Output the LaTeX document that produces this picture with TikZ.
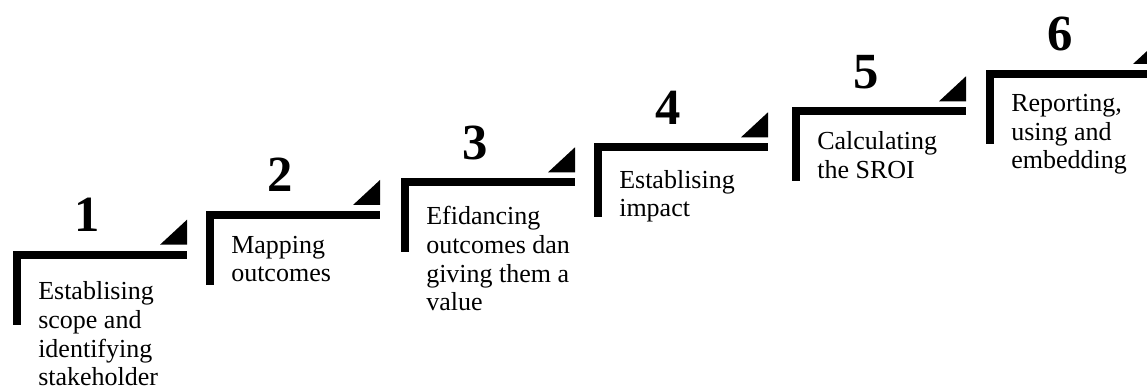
\documentclass[tikz,border=0pt]{standalone}
\usepackage{fontspec}
\setmainfont{Liberation Serif}
\begin{document}
\begin{tikzpicture}[x=0.75pt,y=-0.75pt,
  stepbar/.style={fill=black},
  steptri/.style={fill=black},
  stepnum/.style={font=\fontsize{38}{40}\selectfont\bfseries, inner sep=0pt, anchor=base},
  steptxt/.style={font=\fontsize{19.5}{21.45}\selectfont, inner sep=0pt, anchor=base west}]
\useasboundingbox (0,0) rectangle (1147,392);
\clip (0,0) rectangle (1147,392);
\foreach \i/\x/\y/\b/\t in {
  1/13/250.7/300/{Establising\\scope and\\identifying\\stakeholder},
  2/206/211/253/{Mapping\\outcomes},
  3/401/178.3/225/{Efidancing\\outcomes dan\\giving them a\\value},
  4/594/143.3/188.3/{Establising\\impact},
  5/792/107.3/150/{Calculating\\the SROI},
  6/986/70/111.7/{Reporting,\\using and\\embedding}}{
  \fill[stepbar] (\x,\y) rectangle ++(174,8);
  \fill[stepbar] (\x,\y) rectangle ++(8,74);
  \fill[steptri] (\x+174,\y-6) -- (\x+174,\y-31) -- (\x+147,\y-6) -- cycle;
  \node[stepnum] (n\i) at (\x+74,\y-19) {\i};
  \node[steptxt] (t\i) at (\x+25,\b) {\begin{tabular}[t]{@{}l@{}}\t\end{tabular}};
}
\end{tikzpicture}
\end{document}
